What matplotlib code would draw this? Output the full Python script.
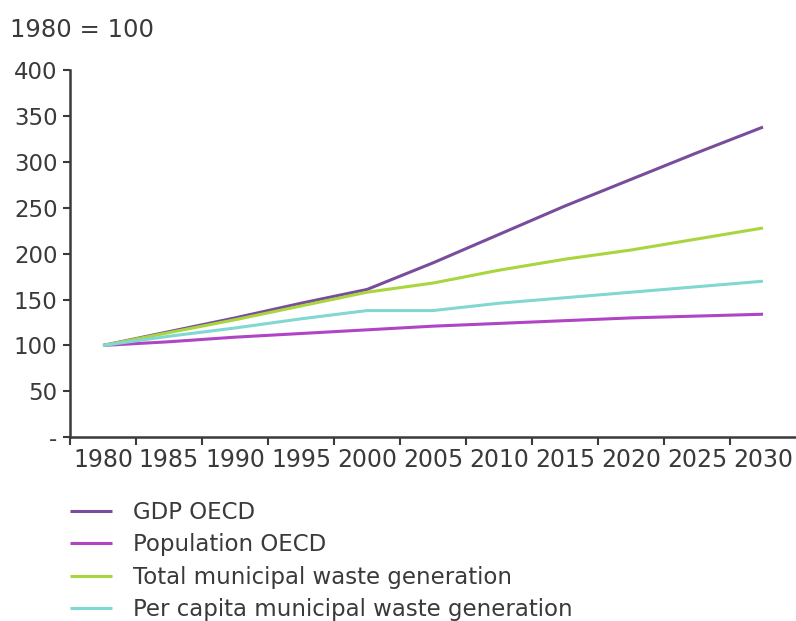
import matplotlib
matplotlib.use("Agg")
import matplotlib.pyplot as plt
import numpy as np

# data (index 1980 = 100)
years = ["1980", "1985", "1990", "1995", "2000", "2005",
         "2010", "2015", "2020", "2025", "2030"]
gdp = [100, 115, 130, 146, 161, 190, 221, 252, 281, 310, 338]
population = [100, 104, 109, 113, 117, 121, 124, 127, 130, 132, 134]
total_waste = [100, 114, 128, 143, 158, 168, 182, 194, 204, 216, 228]
per_capita_waste = [100, 110, 119, 129, 138, 138, 146, 152, 158, 164, 170]

series_names = ["GDP OECD", "Population OECD",
                "Total municipal waste generation",
                "Per capita municipal waste generation"]
series_colors = ["#7a4c9c", "#b144c4", "#a8d63c", "#80d8d0"]

y_ticks = [0, 50, 100, 150, 200, 250, 300, 350, 400]
y_labels = ["-", "50", "100", "150", "200", "250", "300", "350", "400"]

plt.rcParams["font.family"] = "DejaVu Sans"
txt_col = "#3a3a3a"

fig = plt.figure(figsize=(7.96, 6.21), dpi=100)
ax = fig.add_axes([0.088, 0.296, 0.912, 0.591])

x = np.arange(len(years))
for vals, name, col in zip([gdp, population, total_waste, per_capita_waste],
                           series_names, series_colors):
    ax.plot(x, vals, color=col, lw=2.2, label=name, solid_capstyle="butt")

ax.set_xlim(-0.5, len(years) - 0.5)
ax.set_ylim(0, 400)

# category axis: ticks between categories, labels at centres
ax.set_xticks(np.arange(-0.5, len(years) - 0.5, 1.0))
ax.set_xticklabels([])
ax.set_xticks(x, minor=True)
ax.set_xticklabels(years, minor=True, fontsize=17, color=txt_col)
ax.tick_params(axis="x", which="minor", length=0, pad=8)
ax.tick_params(axis="x", which="major", length=6, width=1.5, direction="out", color=txt_col)

ax.set_yticks(y_ticks)
ax.set_yticklabels(y_labels, fontsize=16.5, color=txt_col)
ax.tick_params(axis="y", length=5, width=1.5, direction="out", color=txt_col, pad=4)

for side in ["top", "right"]:
    ax.spines[side].set_visible(False)
for side in ["left", "bottom"]:
    ax.spines[side].set_linewidth(1.8)
    ax.spines[side].set_color(txt_col)

fig.text(0.013, 0.952, "1980 = 100", fontsize=17.5, color=txt_col, va="center")

fig.legend(loc="upper left", bbox_to_anchor=(0.076, 0.208), frameon=False,
           fontsize=16.5, handlelength=1.83, handletextpad=0.92, labelspacing=0.41,
           labelcolor=txt_col, borderaxespad=0)

fig.savefig("out.png", dpi=100)
